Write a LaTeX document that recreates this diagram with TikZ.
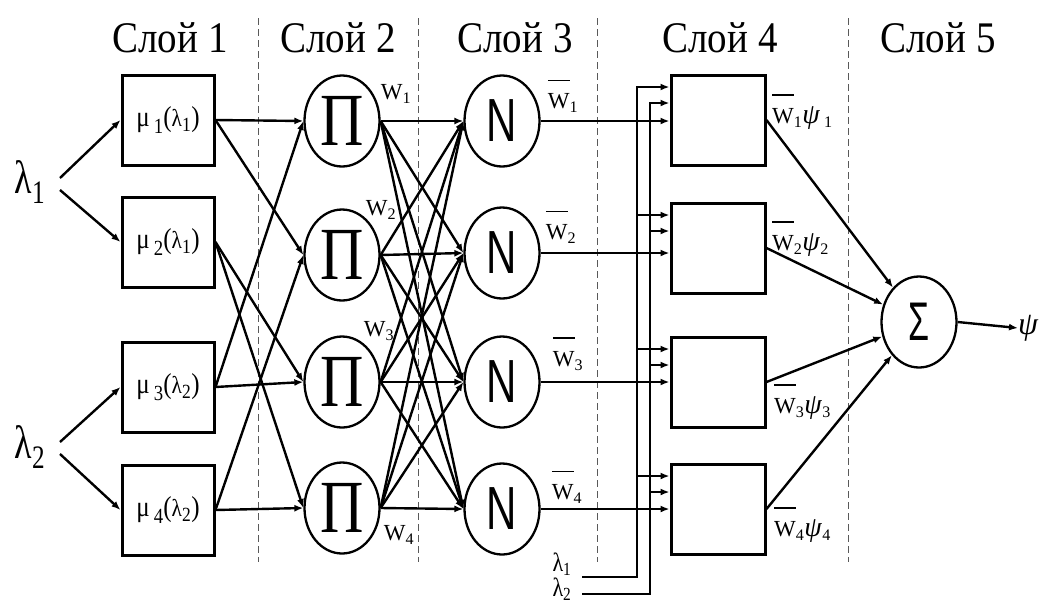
\documentclass[tikz,border=0pt]{standalone}
\usepackage{fontspec}
\setmainfont{Liberation Serif}
\newfontfamily\sansf{Liberation Sans}
\usepackage{graphicx}
\usetikzlibrary{arrows.meta,shapes.geometric,calc}
\newcommand\vsc[2]{\scalebox{1}[#1]{#2}}
\newcommand\Wbar{\leavevmode\rlap{\raisebox{1.2em}{\rule{0.95em}{0.07em}}}W}
\newcommand\mulabel[2]{μ\,\raisebox{-0.22em}{\scalebox{0.75}{#1}}(\scalebox{0.85}{λ}\textsubscript{#2})}
\begin{document}
\begin{tikzpicture}[x=1pt,y=-1pt,
  conn/.style={line width=2.4pt,-{Latex[length=9pt,width=7pt]}},
  mfbox/.style={draw,line width=3pt,minimum width=92pt,minimum height=90pt,inner sep=0pt},
  rulebox/.style={draw,line width=3pt,minimum width=94pt,minimum height=90pt,inner sep=0pt},
  neuron/.style={draw,ellipse,line width=2.3pt,minimum width=75pt,minimum height=91pt,inner sep=0pt},
  sep/.style={draw=black!65,line width=1pt,dash pattern=on 7pt off 4pt},
  title/.style={font=\fontsize{39}{42}\selectfont,inner sep=0pt},
  lab/.style={font=\fontsize{23}{25}\selectfont,inner sep=0pt},
  mulab/.style={font=\fontsize{25}{27}\selectfont,inner sep=0pt}]
\useasboundingbox (0,0) rectangle (1043,606);

% separators
\foreach \x in {258,418,597,848} \draw[sep] (\x,18) -- (\x,562);

% titles
\node[title] (t1) at (170,38) {\vsc{1.12}{Слой 1}};
\node[title] (t2) at (338,38) {\vsc{1.12}{Слой 2}};
\node[title] (t3) at (515,38) {\vsc{1.12}{Слой 3}};
\node[title] (t4) at (720,38) {\vsc{1.12}{Слой 4}};
\node[title] (t5) at (938,38) {\vsc{1.12}{Слой 5}};

% inputs
\node[inner sep=0pt,font=\fontsize{36}{38}\selectfont] (lam1) at (30,182) {\vsc{1.3}{λ\textsubscript{1}}};
\node[inner sep=0pt,font=\fontsize{36}{38}\selectfont] (lam2) at (30,447) {\vsc{1.3}{λ\textsubscript{2}}};
\coordinate (l1a) at (60,178);
\coordinate (l1b) at (60,190);
\coordinate (l2a) at (60,442);
\coordinate (l2b) at (60,454);

% layer 1
\node[mfbox,mulab] (mu1) at (168,120) {\vsc{1.15}{\mulabel{1}{1}}};
\node[mfbox,mulab] (mu2) at (168,242) {\vsc{1.15}{\mulabel{2}{1}}};
\node[mfbox,mulab] (mu3) at (168,387) {\vsc{1.15}{\mulabel{3}{2}}};
\node[mfbox,mulab] (mu4) at (168,510) {\vsc{1.15}{\mulabel{4}{2}}};

\draw[conn] (l1a) -- (mu1.west);
\draw[conn] (l1b) -- (mu2.west);
\draw[conn] (l2a) -- (mu3.west);
\draw[conn] (l2b) -- (mu4.west);

% layer 2
\foreach \i/\y in {1/121,2/255,3/382,4/508}
  \node[neuron] (P\i) at (342,\y) {\vsc{1.25}{\fontsize{60}{62}\selectfont Π}};

\draw[conn] (mu1.east) -- (P1.west);
\draw[conn] (mu1.east) -- (P2.west);
\draw[conn] (mu2.east) -- (P3.west);
\draw[conn] (mu2.east) -- (P4.west);
\draw[conn] (mu3.east) -- (P1.west);
\draw[conn] (mu3.east) -- (P3.west);
\draw[conn] (mu4.east) -- (P2.west);
\draw[conn] (mu4.east) -- (P4.west);

\node[lab] (w1) at (396,94) {W\textsubscript{1}};
\node[lab] (w2) at (381,210) {W\textsubscript{2}};
\node[lab] (w3) at (379,331) {W\textsubscript{3}};
\node[lab] (w4) at (399,535) {W\textsubscript{4}};

% layer 3
\foreach \i/\y in {1/121,2/253,3/382,4/509}
  \node[neuron] (N\i) at (502,\y) {\vsc{1.45}{\sansf\fontsize{42}{44}\selectfont N}};

\foreach \i in {1,...,4}
  \foreach \j in {1,...,4}
    \draw[conn] (P\i.east) -- (N\j.west);

\node[lab] (wb1) at (563,96) {\Wbar\textsubscript{1}};
\node[lab] (wb2) at (561,227) {\Wbar\textsubscript{2}};
\node[lab] (wb3) at (568,354) {\Wbar\textsubscript{3}};
\node[lab] (wb4) at (567,487) {\Wbar\textsubscript{4}};

% layer 4
\foreach \i/\y in {1/120,2/248,3/382,4/509}
  \node[rulebox] (R\i) at (718,\y) {};

\foreach \i in {1,...,4}
  \draw[conn] (N\i.east) -- (N\i.east -| R\i.west);

\node[inner sep=0pt,font=\fontsize{22}{24}\selectfont] (bl1) at (562,564) {\vsc{1.2}{λ\textsubscript{1}}};
\node[inner sep=0pt,font=\fontsize{22}{24}\selectfont] (bl2) at (562,589) {\vsc{1.2}{λ\textsubscript{2}}};
\coordinate (f1) at (582,577);
\coordinate (f2) at (582,594);
\coordinate (v1) at (637,577);
\coordinate (v2) at (650,594);
\foreach \i in {1,...,4} {
  \coordinate (a\i) at ($(R\i.west)+(0,-33)$);
  \coordinate (b\i) at ($(R\i.west)+(0,-17)$);
}
\draw[conn] (f1) -- (v1) |- (a1);
\draw[conn] (f2) -- (v2) |- (b1);
\foreach \i in {2,3,4} {
  \draw[conn] (a\i -| v1) -- (a\i);
  \draw[conn] (b\i -| v2) -- (b\i);
}

% layer 5
\node[neuron] (S) at (919,322) {\vsc{1.6}{\sansf\fontsize{34}{36}\selectfont Σ}};
\foreach \i in {1,...,4}
  \draw[conn] (R\i.east) -- (S);

\node[lab,anchor=west] (o1) at (772,112) {\Wbar\textsubscript{1}{\fontsize{28}{30}\selectfont\textit{ψ}}\,\textsubscript{1}};
\node[lab,anchor=west] (o2) at (772,239) {\Wbar\textsubscript{2}{\fontsize{28}{30}\selectfont\textit{ψ}}\textsubscript{2}};
\node[lab,anchor=west] (o3) at (774,402) {\Wbar\textsubscript{3}{\fontsize{28}{30}\selectfont\textit{ψ}}\textsubscript{3}};
\node[lab,anchor=west] (o4) at (774,525) {\Wbar\textsubscript{4}{\fontsize{28}{30}\selectfont\textit{ψ}}\textsubscript{4}};

\node[inner sep=0pt,anchor=west,font=\fontsize{32}{34}\selectfont] (psi) at (1018,328) {\textit{ψ}};
\draw[conn] (S.east) -- (psi.west);
\end{tikzpicture}
\end{document}
